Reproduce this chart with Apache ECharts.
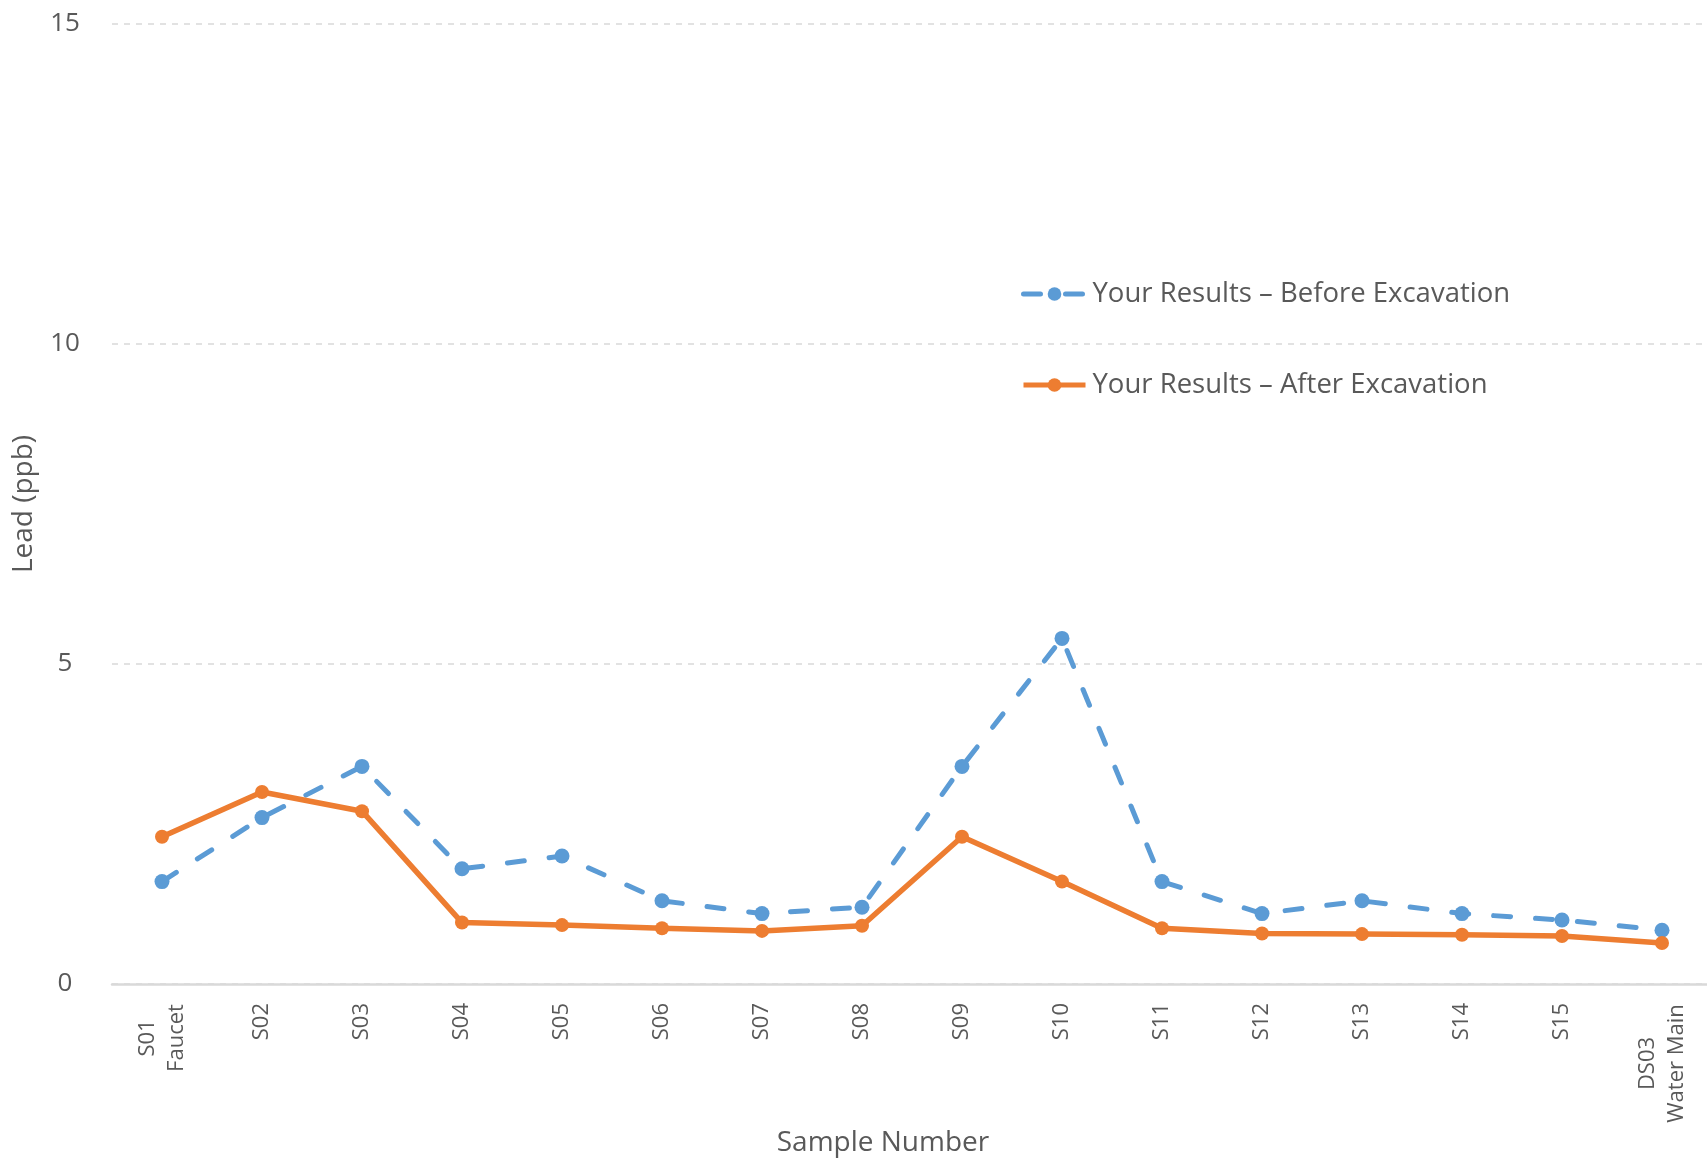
<!DOCTYPE html>
<html>
<head>
<meta charset="utf-8">
<title>Lead (ppb)</title>
<script src="https://cdn.jsdelivr.net/npm/echarts@6/dist/echarts.min.js"></script>
<style>
    html, body { margin: 0; padding: 0; background: #fff; overflow: hidden; }
    /* 绘图区右边略超出窗口，容器比窗口宽一点 */
    #chart { width: 1712px; height: 1162px; }
</style>
</head>
<body>
<div id="chart"></div>
<script>
// 样品编号
var categories = ['S01\nFaucet', 'S02', 'S03', 'S04', 'S05', 'S06', 'S07', 'S08',
    'S09', 'S10', 'S11', 'S12', 'S13', 'S14', 'S15', 'DS03\nWater Main'];
// 开挖前
var beforeValues = [1.6, 2.6, 3.4, 1.8, 2.0, 1.3, 1.1, 1.2, 3.4, 5.4, 1.6, 1.1, 1.3, 1.1, 1.0, 0.84];
// 开挖后
var afterValues = [2.3, 3.0, 2.7, 0.96, 0.92, 0.87, 0.83, 0.91, 2.3, 1.6, 0.87, 0.79, 0.78, 0.77, 0.75, 0.64];
var yTicks = [0, 5, 10, 15];
var seriesNames = ['Your Results \u2013 Before Excavation', 'Your Results \u2013 After Excavation'];

var font = '"Open Sans", "Noto Sans", sans-serif';
var textColor = '#595959';
var labelSize = 22;

// 量一下文字宽度，多行标签每行居中
var ctx = document.createElement('canvas').getContext('2d');
ctx.font = labelSize + 'px "Open Sans"';
function textWidth(s){
    return Math.ceil(ctx.measureText(s).width) + 2;
}
function blockWidth(v){
    var w = 0;
    v.split('\n').forEach(function(l){ w = Math.max(w, textWidth(l)); });
    return w;
}

var chart = echarts.init(document.getElementById('chart'));
var rich = {};
categories.forEach(function(c){
    if(c.indexOf('\n') >= 0){
        var w = blockWidth(c);
        rich['c' + w] = { width: w, align: 'center', fontSize: labelSize, lineHeight: 29, color: textColor, fontFamily: font };
    }
});

var option = {
    backgroundColor: '#fff',
    color: ['#5B9BD5', '#ED7D31'],
    animation: false,
    textStyle: { fontFamily: font, color: textColor },
    title: {
        text: 'Sample Number',
        left: 878,
        top: 1124,
        textAlign: 'center',
        textStyle: { fontFamily: font, fontSize: 28, fontWeight: 'normal', color: textColor }
    },
    legend: {
        orient: 'vertical',
        left: 1016,
        top: 275,
        itemWidth: 62,
        itemHeight: 17,
        itemGap: 63,
        lineStyle: { width: 5 },
        textStyle: { fontFamily: font, fontSize: 27.5, color: textColor, padding: [0, 0, 0, 2] },
        data: seriesNames
    },
    grid: {
        left: 112,
        right: 0,
        top: 24,
        bottom: 178,
        containLabel: false
    },
    xAxis: {
        type: 'category',
        data: categories,
        boundaryGap: true,
        axisLine: { lineStyle: { color: '#D9D9D9', width: 2.5 } },
        axisTick: { show: false },
        axisLabel: {
            rotate: 90,
            interval: 0,
            margin: 19,
            fontFamily: font,
            fontSize: labelSize,
            color: textColor,
            lineHeight: 29,
            formatter: function(v){
                if(v.indexOf('\n') < 0) return v;
                var w = blockWidth(v);
                return v.split('\n').map(function(l){ return '{c' + w + '|' + l + '}'; }).join('\n');
            },
            rich: rich
        }
    },
    yAxis: {
        type: 'value',
        min: yTicks[0],
        max: yTicks[yTicks.length - 1],
        interval: yTicks[1] - yTicks[0],
        name: 'Lead (ppb)',
        nameLocation: 'middle',
        nameRotate: 90,
        nameGap: 74,
        nameTextStyle: { fontFamily: font, fontSize: 28, color: textColor },
        axisLine: { show: false },
        axisTick: { show: false },
        axisLabel: {
            align: 'center',
            margin: 47,
            fontFamily: font,
            fontSize: 26,
            color: textColor
        },
        splitLine: {
            lineStyle: { color: '#D9D9D9', width: 1.5, type: [6, 6] }
        }
    },
    series: [
        {
            name: seriesNames[0],
            type: 'line',
            data: beforeValues,
            symbol: 'circle',
            symbolSize: 15,
            lineStyle: { width: 5, type: [17, 25], cap: 'round' },
            itemStyle: { color: '#5B9BD5' },
            z: 2
        },
        {
            name: seriesNames[1],
            type: 'line',
            data: afterValues,
            symbol: 'circle',
            symbolSize: 14,
            lineStyle: { width: 5.5 },
            itemStyle: { color: '#ED7D31' },
            z: 3
        }
    ]
};
chart.setOption(option);
</script>
</body>
</html>
